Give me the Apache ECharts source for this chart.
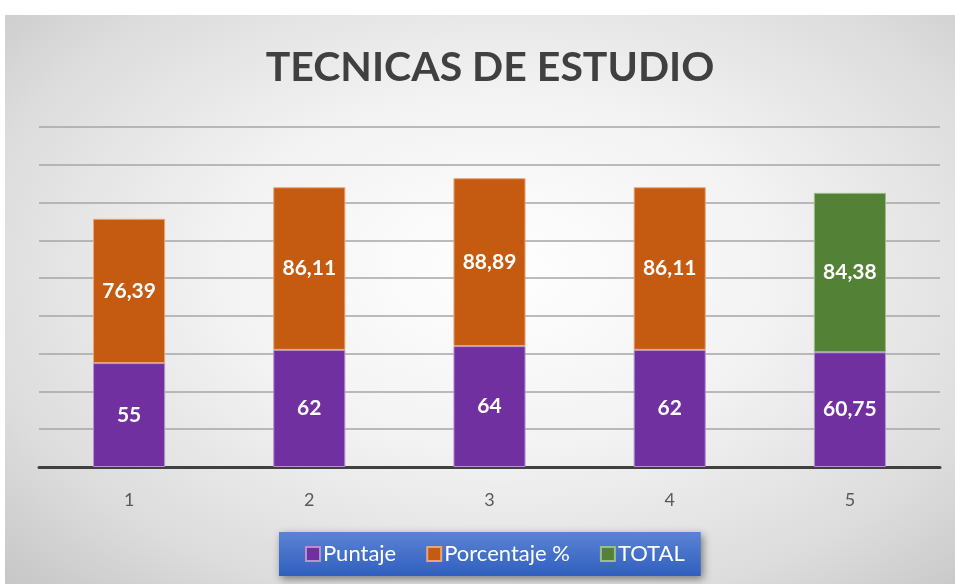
<!DOCTYPE html>
<html>
<head>
<meta charset="utf-8">
<script src="https://cdn.jsdelivr.net/npm/echarts@6/dist/echarts.min.js"></script>
<style>
html,body{margin:0;padding:0;background:#fff;}
#c{position:absolute;left:5px;top:15px;width:950px;height:569px;
background:radial-gradient(ellipse 75% 80% at 52% 45%, #ffffff 0%, #f2f2f2 40%, #dcdcdc 75%, #c4c4c4 100%);}
</style>
</head>
<body>
<div id="c"></div>
<script>
const categories = ['1','2','3','4','5'];
const puntaje = [55, 62, 64, 62, 60.75];
const porcentaje = [76.39, 86.11, 88.89, 86.11, '-'];
const total = ['-', '-', '-', '-', 84.38];
const seriesNames = ['Puntaje', 'Porcentaje %', 'TOTAL'];
const titleText = 'TECNICAS DE ESTUDIO';

const FONT = 'Lato';
const chart = echarts.init(document.getElementById('c'), null, {renderer:'canvas'});
const fmt = p => String(p.value).replace('.', ',');
const label = {show:true, position:'inside', color:'#fff', fontFamily:FONT, fontWeight:'bold', fontSize:21, formatter:fmt};
function bar(name, data, color, border){
  return {name, type:'bar', stack:'s', data, barWidth:'40%',
    itemStyle:{color, borderColor:border, borderWidth:1},
    label, emphasis:{disabled:true}};
}
chart.setOption({
  animation:false,
  backgroundColor:'transparent',
  title:{text:titleText, left:480, textAlign:'center', top:27,
    textStyle:{fontFamily:FONT, fontWeight:'bold', fontSize:41, color:'#404040'}},
  grid:{left:34, right:15, top:112, bottom:117},
  xAxis:{type:'category', data:categories,
    axisLine:{lineStyle:{color:'#404040', width:3}},
    axisTick:{show:false},
    axisLabel:{color:'#595959', fontSize:18, fontFamily:FONT, margin:24}},
  yAxis:{type:'value', min:0, max:180, interval:20,
    axisLabel:{show:false}, axisLine:{show:false}, axisTick:{show:false},
    splitLine:{lineStyle:{color:'#a6a6a6', width:1.5}}},
  legend:{data:seriesNames, bottom:8, left:274,
    itemWidth:14, itemHeight:14, itemGap:30, icon:'rect',
    padding:[11, 16, 11, 26],
    textStyle:{color:'#fff', fontSize:22, fontFamily:FONT, padding:[0,0,0,-2]},
    backgroundColor:{type:'linear', x:0, y:0, x2:0, y2:1,
      colorStops:[{offset:0, color:'#5b83d3'},{offset:1, color:'#2f5fbf'}]},
    shadowBlur:8, shadowColor:'rgba(0,0,0,0.45)', shadowOffsetX:2, shadowOffsetY:3},
  series:[
    bar(seriesNames[0], puntaje, '#7030A0', '#b392cf'),
    bar(seriesNames[1], porcentaje, '#C55A11', '#e8a57a'),
    bar(seriesNames[2], total, '#538135', '#9cbc89')
  ]
});
</script>
</body>
</html>
